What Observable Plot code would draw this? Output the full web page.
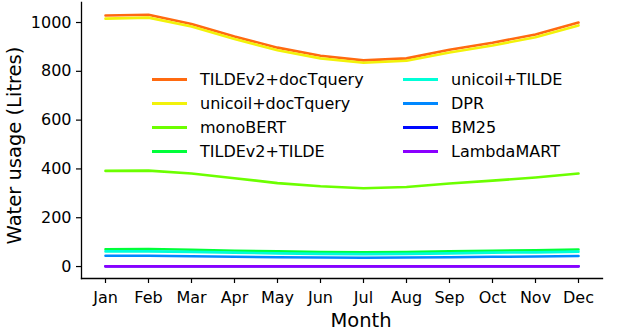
<!DOCTYPE html>
<html>
<head>
<meta charset="utf-8">
<script src="https://cdn.jsdelivr.net/npm/d3@7"></script>
<script src="https://cdn.jsdelivr.net/npm/@observablehq/plot@0.6"></script>
<style>
  body { margin: 0; background: #fff; }
  #wrap { position: relative; width: 640px; height: 331px; font-family: "DejaVu Sans", sans-serif; }
  #legend { position: absolute; left: 152px; top: 68px; display: grid; grid-template-columns: 251px 200px; row-gap: 2px; font-size: 16px; color: #000; }
  .item { display: flex; align-items: center; height: 22px; }
  .sw { width: 35px; height: 3px; margin-right: 13px; }
</style>
</head>
<body>
<div id="wrap"><div id="legend"></div></div>
<script>
const months = ["Jan","Feb","Mar","Apr","May","Jun","Jul","Aug","Sep","Oct","Nov","Dec"];
const seriesNames = ["TILDEv2+docTquery","unicoil+docTquery","monoBERT","TILDEv2+TILDE","unicoil+TILDE","DPR","BM25","LambdaMART"];
const seriesColors = ["#ff6a10","#f2f20a","#6cff00","#00ff3a","#00ffd8","#0088ff","#0008ff","#8a00ff"];
const tildeDocT   = [1029,1032,994,943,897,864,845,853,888,917,951,1000];
const unicoilDocT = [1016,1020,984,932,886,853,835,843,877,906,940,988];
const monoBERT    = [392,393,381,362,342,329,321,326,340,352,365,381];
const tildeTilde  = [71,72,69,65,62,59,58,59,62,65,67,70];
const unicoilTilde= [62,62,60,57,54,52,51,52,54,57,58,61];
const dpr         = [44,44,42,40,38,37,36,37,38,40,41,43];
const bm25        = [1.5,1.5,1.5,1.4,1.4,1.3,1.3,1.3,1.4,1.4,1.5,1.5];
const lambdaMART  = [0.5,0.5,0.5,0.5,0.5,0.5,0.5,0.5,0.5,0.5,0.5,0.5];
const yTicks = [0,200,400,600,800,1000];

const allSeries = [tildeDocT, unicoilDocT, monoBERT, tildeTilde, unicoilTilde, dpr, bm25, lambdaMART];
const rows = [];
allSeries.forEach((vals, i) => vals.forEach((v, j) => rows.push({series: seriesNames[i], month: months[j], value: v})));

const chart = Plot.plot({
  width: 640,
  height: 331,
  marginLeft: 81,
  marginRight: 38,
  marginTop: 2,
  marginBottom: 53,
  style: {fontFamily: "DejaVu Sans, sans-serif", fontSize: "16px", color: "#000", background: "#fff"},
  x: {type: "point", domain: months, padding: 0.53},
  y: {domain: [-49, 1082]},
  color: {domain: seriesNames, range: seriesColors},
  marks: [
    Plot.axisX({tickSize: 5, tickPadding: 8, fontSize: 16, label: null, strokeWidth: 1.2}),
    Plot.axisY({ticks: yTicks, tickSize: 5, tickPadding: 5, fontSize: 16, label: null, tickFormat: d => String(d), strokeWidth: 1.2}),
    Plot.frame({anchor: "left", stroke: "#000", strokeWidth: 1.3}),
    Plot.frame({anchor: "bottom", stroke: "#000", strokeWidth: 1.3}),
    Plot.line(rows, {x: "month", y: "value", z: "series", stroke: "series", strokeWidth: 2.6}),
    Plot.text(["Month"], {frameAnchor: "bottom", textAnchor: "middle", dx: 19, dy: 48, fontSize: 19.5, lineAnchor: "bottom"}),
    Plot.text(["Water usage (Litres)"], {frameAnchor: "left", textAnchor: "middle", rotate: -90, dx: -67, dy: 5, fontSize: 19.5, lineAnchor: "middle"})
  ]
});
document.getElementById("wrap").prepend(chart);

const legend = document.getElementById("legend");
const order = [0,4,1,5,2,6,3,7];
order.forEach(i => {
  const d = document.createElement("div");
  d.className = "item";
  d.innerHTML = `<span class="sw" style="background:${seriesColors[i]}"></span><span>${seriesNames[i]}</span>`;
  legend.appendChild(d);
});
</script>
</body>
</html>
